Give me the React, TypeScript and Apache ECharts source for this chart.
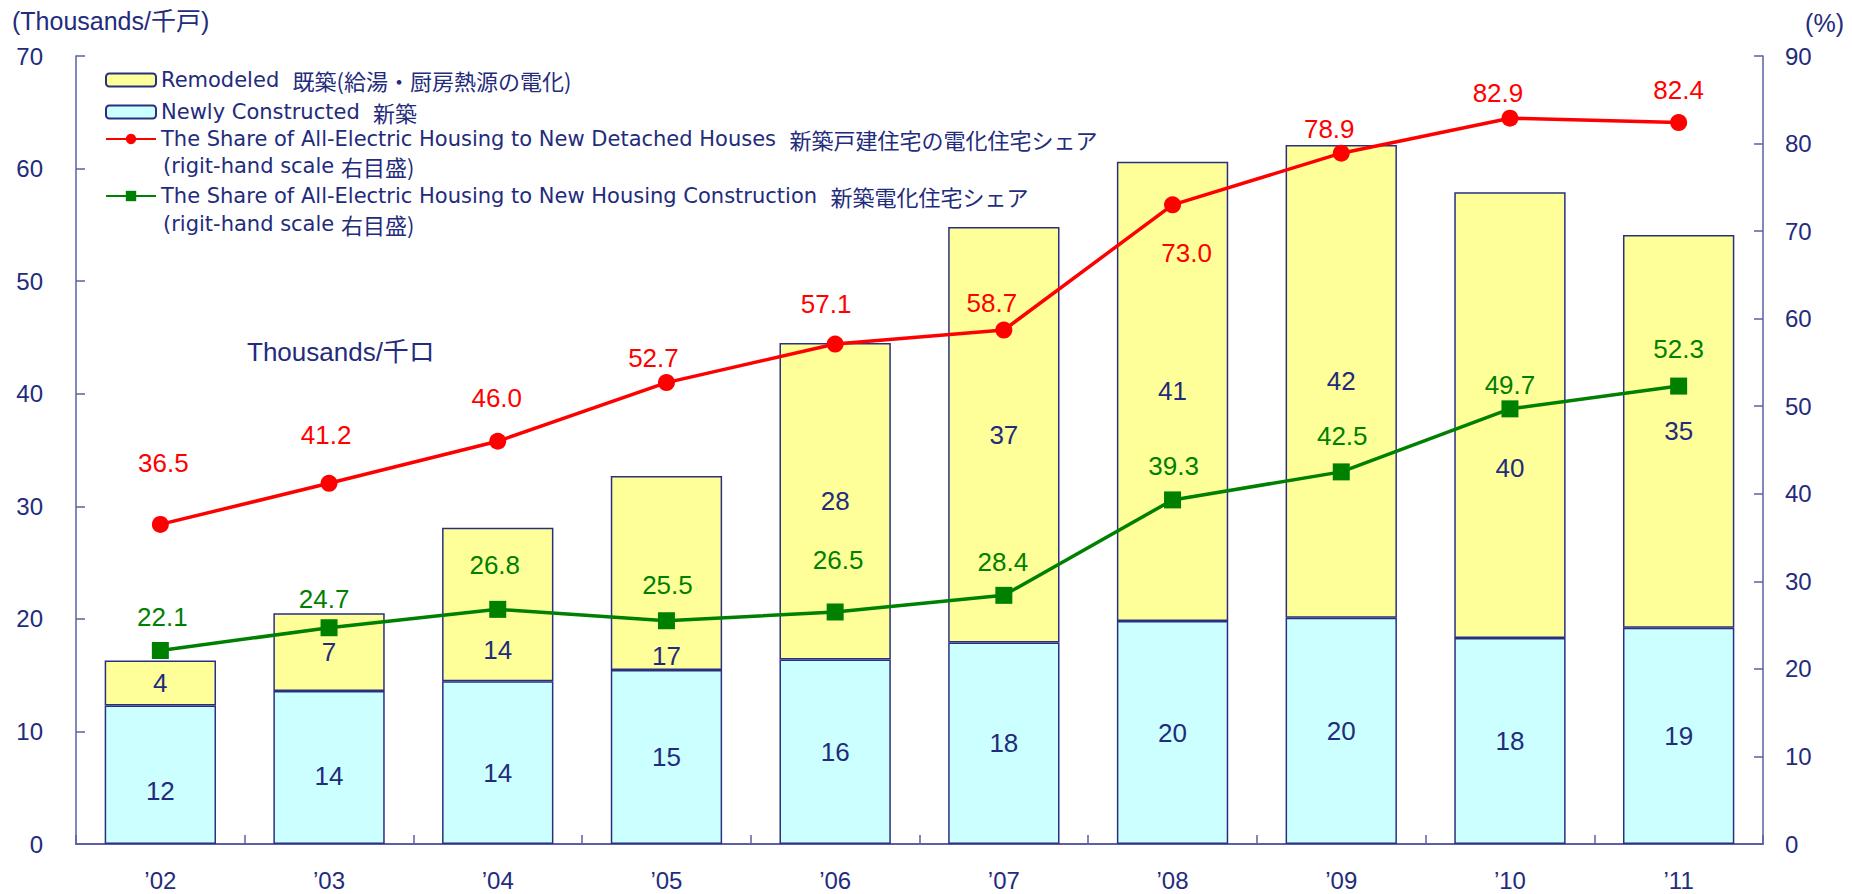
import React, { useEffect, useRef } from "react";
import * as echarts from "echarts";

const categories = ["’02", "’03", "’04", "’05", "’06", "’07", "’08", "’09", "’10", "’11"];
const newlyConstructed = [12.3, 13.6, 14.45, 15.45, 16.4, 17.9, 19.8, 20.1, 18.3, 19.2];
const remodeled = [4.0, 6.9, 13.65, 17.25, 28.1, 36.9, 40.8, 42.0, 39.6, 34.9];
const detachedShare = [36.5, 41.2, 46.0, 52.7, 57.1, 58.7, 73.0, 78.9, 82.9, 82.4];
const housingShare = [22.1, 24.7, 26.8, 25.5, 26.5, 28.4, 39.3, 42.5, 49.7, 52.3];

const leftTicks = { min: 0, max: 70, interval: 10 };
const rightTicks = { min: 0, max: 90, interval: 10 };

// label placement tweaks (pixels)
const newlyLabelDy = [16, 9, 10, 0, 0, 0, 0, 0, 0, 0];
const remodeledLabelDy = [0, 0, 45, 83, 0, 0, 0, 0, 53, 0];
const detachedLabelOffset = [[3, -61], [-3, -48], [-1, -43], [-13, -25], [-9, -40], [-12, -27], [14, 48], [-12, -24], [-12, -25], [0, -33]];
const housingLabelOffset = [[2, -34], [-5, -29], [-3, -44], [1, -36], [3, -52], [-1, -33], [1, -34], [1, -36], [0, -24], [0, -37]];

const NAME_REMODELED = "Remodeled  既築(給湯・厨房熱源の電化)";
const NAME_NEWLY = "Newly Constructed  新築";
const NAME_DETACHED = "The Share of All-Electric Housing to New Detached Houses  新築戸建住宅の電化住宅シェア";
const NAME_HOUSING = "The Share of All-Electric Housing to New Housing Construction  新築電化住宅シェア";

const NAVY = "#232B7C";
const AXIS = "#5B5FA3";
const BORDER = "#2A3080";
const LAT = "'Liberation Sans', Arial, 'Noto Sans CJK JP', sans-serif";
const LEG_LAT = "'DejaVu Sans', sans-serif";
const LEG_CJK = "'Noto Sans CJK JP', sans-serif";

const splitName = (name: string) => {
  const idx = name.indexOf("  ");
  return `{a|${name.slice(0, idx + 2)}}{b|${name.slice(idx + 2)}}`;
};

const legendBase = {
  left: 105,
  padding: 0,
  orient: "vertical",
  itemWidth: 50,
  itemHeight: 13,
  itemGap: 10,
  formatter: splitName,
  textStyle: {
    color: NAVY,
    lineHeight: 22,
    rich: {
      a: { fontFamily: LEG_LAT, fontSize: 21, color: NAVY, lineHeight: 22 },
      b: { fontFamily: LEG_CJK, fontSize: 22, color: NAVY, lineHeight: 22 },
    },
  },
};

const noteText = (top: number) => ({
  type: "text",
  left: 163,
  top,
  style: {
    text: "{a|(rigit-hand scale }{b|右目盛)}",
    fill: NAVY,
    rich: {
      a: { fontFamily: LEG_LAT, fontSize: 21, fill: NAVY, lineHeight: 22 },
      b: { fontFamily: LEG_CJK, fontSize: 22, fill: NAVY, lineHeight: 22 },
    },
  },
});

export default function App() {
  const ref = useRef<HTMLDivElement>(null);
  useEffect(() => {
    document.body.style.margin = "0";
    document.body.style.overflow = "hidden";
    const chart = echarts.init(ref.current!, undefined, { renderer: "svg" });
    const labelFont = { fontFamily: LAT, fontSize: 26 };
    chart.setOption({
      animation: false,
      backgroundColor: "#ffffff",
      grid: { left: 76, right: 89, top: 56, bottom: 50, containLabel: false },
      legend: [
        { ...legendBase, top: 69, data: [NAME_REMODELED, NAME_NEWLY] },
        { ...legendBase, top: 128, data: [NAME_DETACHED] },
        { ...legendBase, top: 185, data: [NAME_HOUSING] },
      ],
      graphic: [
        { type: "text", left: 12, top: 8, style: { text: "(Thousands/千戸)", fill: NAVY, font: `25px ${LAT}` } },
        { type: "text", right: 8, top: 10, style: { text: "(%)", fill: NAVY, font: `25px ${LAT}` } },
        { type: "text", left: 247, top: 339, style: { text: "Thousands/千ロ", fill: NAVY, font: `26px ${LAT}` } },
        noteText(155),
        noteText(213),
      ],
      xAxis: {
        type: "category",
        data: categories,
        boundaryGap: true,
        axisLine: { lineStyle: { color: AXIS, width: 2 } },
        axisTick: { show: true, inside: true, length: 9, interval: 0, alignWithLabel: false, lineStyle: { color: AXIS, width: 1.5 } },
        axisLabel: { color: NAVY, fontFamily: LAT, fontSize: 24, margin: 24, interval: 0 },
        splitLine: { show: false },
      },
      yAxis: [
        {
          type: "value",
          ...leftTicks,
          position: "left",
          axisLine: { show: true, lineStyle: { color: AXIS, width: 1.5 } },
          axisTick: { show: true, inside: true, length: 9, lineStyle: { color: AXIS, width: 1.5 } },
          axisLabel: { color: NAVY, fontFamily: LAT, fontSize: 24, margin: 33 },
          splitLine: { show: false },
        },
        {
          type: "value",
          ...rightTicks,
          position: "right",
          axisLine: { show: true, lineStyle: { color: AXIS, width: 1.5 } },
          axisTick: { show: true, inside: true, length: 9, lineStyle: { color: AXIS, width: 1.5 } },
          axisLabel: { color: NAVY, fontFamily: LAT, fontSize: 24, margin: 22 },
          splitLine: { show: false },
        },
      ],
      series: [
        {
          name: NAME_NEWLY,
          type: "bar",
          stack: "total",
          barWidth: "66%",
          itemStyle: { color: "#CCFFFF", borderColor: BORDER, borderWidth: 1.5 },
          label: {
            show: true,
            position: "inside",
            color: NAVY,
            ...labelFont,
            formatter: (p: any) => String(Math.round(p.value)),
          },
          data: newlyConstructed.map((v, i) => ({ value: v, label: { offset: [0, newlyLabelDy[i]] } })),
          z: 2,
        },
        {
          name: NAME_REMODELED,
          type: "bar",
          stack: "total",
          barWidth: "66%",
          itemStyle: { color: "#FFFF99", borderColor: BORDER, borderWidth: 1.5 },
          label: {
            show: true,
            position: "inside",
            color: NAVY,
            ...labelFont,
            formatter: (p: any) => String(Math.round(p.value)),
          },
          data: remodeled.map((v, i) => ({ value: v, label: { offset: [0, remodeledLabelDy[i]] } })),
          z: 2,
        },
        {
          name: NAME_DETACHED,
          type: "line",
          yAxisIndex: 1,
          symbol: "circle",
          symbolSize: 17,
          lineStyle: { color: "#FF0000", width: 3.5 },
          itemStyle: { color: "#FF0000" },
          label: {
            show: true,
            position: "inside",
            color: "#FF0000",
            ...labelFont,
            formatter: (p: any) => Number(p.value).toFixed(1),
          },
          data: detachedShare.map((v, i) => ({ value: v, label: { offset: detachedLabelOffset[i] } })),
          z: 5,
        },
        {
          name: NAME_HOUSING,
          type: "line",
          yAxisIndex: 1,
          symbol: "rect",
          symbolSize: 17,
          lineStyle: { color: "#008000", width: 3.5 },
          itemStyle: { color: "#008000" },
          label: {
            show: true,
            position: "inside",
            color: "#008000",
            ...labelFont,
            formatter: (p: any) => Number(p.value).toFixed(1),
          },
          data: housingShare.map((v, i) => ({ value: v, label: { offset: housingLabelOffset[i] } })),
          z: 5,
        },
      ],
    });
    return () => chart.dispose();
  }, []);
  return <div ref={ref} style={{ width: 1852, height: 894 }} />;
}
